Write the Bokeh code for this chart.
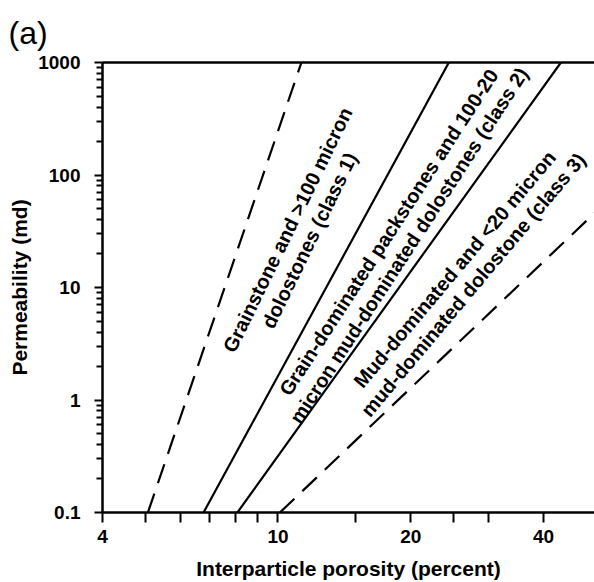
from bokeh.plotting import figure
from bokeh.models import FixedTicker, LogAxis, ColumnDataSource, Range1d, Title
from bokeh.embed import file_html
from bokeh.resources import INLINE
from bokeh.core.properties import value

# ---------------- data ----------------
# boundary lines: interparticle porosity (percent) vs permeability (md)
bound_class1_dash_por = [5.07, 11.3]
bound_class1_dash_perm = [0.1, 1000]
bound_class12_por = [6.78, 24.4]
bound_class12_perm = [0.1, 1000]
bound_class23_por = [8.09, 43.8]
bound_class23_perm = [0.1, 1000]
bound_class3_dash_por = [10.1, 52.2]
bound_class3_dash_perm = [0.1, 45.8]

x_major_ticks = [4, 10, 20, 40]
x_minor_ticks = [5, 6, 7, 8, 9, 15, 25, 30]
y_major_ticks = [0.1, 1, 10, 100, 1000]
y_tick_labels = ["0.1", "1", "10", "100", "1000"]
y_minor_ticks = [k * 10.0 ** d for d in range(-1, 3) for k in range(2, 10)]

class_labels = [
    "Grainstone and >100 micron\ndolostones (class 1)",
    "Grain-dominated packstones and 100-20\nmicron mud-dominated dolostones (class 2)",
    "Mud-dominated and <20 micron\nmud-dominated dolostone (class 3)",
]
class_label_x = [11.13, 18.8, 26.4]
class_label_y = [29.2, 27.1, 12.4]
class_label_angle = [64, 57, 50]

FONT = "Liberation Sans"

p = figure(width=594, height=582, x_axis_type="log", y_axis_type="log",
           x_range=Range1d(4, 52.2), y_range=Range1d(0.1, 1000),
           output_backend="svg", toolbar_location=None,
           min_border_left=102, min_border_right=0,
           min_border_top=62, min_border_bottom=69)
p.outline_line_color = None
p.grid.visible = False
p.background_fill_color = "white"
p.border_fill_color = "white"

# lines
p.line(bound_class1_dash_por, bound_class1_dash_perm, line_color="black",
       line_width=2.2, line_dash="20 11")
p.line(bound_class12_por, bound_class12_perm, line_color="black", line_width=2.2)
p.line(bound_class23_por, bound_class23_perm, line_color="black", line_width=2.2)
p.line(bound_class3_dash_por, bound_class3_dash_perm, line_color="black",
       line_width=2.2, line_dash="20 11")

src = ColumnDataSource(dict(x=class_label_x, y=class_label_y,
                            t=class_labels, a=class_label_angle))
p.text(x="x", y="y", text="t", angle="a", angle_units="deg", source=src,
       text_align="center", text_baseline="middle",
       text_font=value(FONT), text_font_style="bold",
       text_font_size="20px", text_color="black", text_line_height=1.1)

# x axis
xa = p.xaxis[0]
xa.ticker = FixedTicker(ticks=x_major_ticks, minor_ticks=x_minor_ticks)
xa.major_label_overrides = {t: str(t) for t in x_major_ticks}
xa.axis_label = "Interparticle porosity (percent)"
# y axis
ya = p.yaxis[0]
ya.ticker = FixedTicker(ticks=y_major_ticks, minor_ticks=y_minor_ticks)
ya.major_label_overrides = {t: s for t, s in zip(y_major_ticks, y_tick_labels)}
ya.axis_label = "Permeability (md)"

for ax in (xa, ya):
    ax.axis_line_width = 2.5
    ax.axis_line_color = "black"
    ax.major_tick_line_width = 2
    ax.minor_tick_line_width = 2
    ax.major_tick_line_color = "black"
    ax.minor_tick_line_color = "black"
    ax.major_tick_in = 0
    ax.minor_tick_in = 0
    ax.major_label_text_font = FONT
    ax.major_label_text_font_style = "bold"
    ax.major_label_text_font_size = "19px"
    ax.major_label_text_color = "black"
    ax.axis_label_text_font = FONT
    ax.axis_label_text_font_style = "bold"
    ax.axis_label_text_font_size = "21px"
    ax.axis_label_text_color = "black"

xa.major_tick_out = 10
xa.minor_tick_out = 10
xa.major_label_standoff = 7
xa.axis_label_standoff = 11
ya.major_tick_out = 8
ya.minor_tick_out = 6
ya.major_label_standoff = 14
ya.axis_label_standoff = 4

# top frame line
top = LogAxis(ticker=FixedTicker(ticks=[]), axis_line_width=2.5,
              axis_line_color="black", major_tick_line_color=None,
              minor_tick_line_color=None, major_label_text_font_size="0px",
              major_tick_out=0, minor_tick_out=0, major_label_standoff=0)
p.add_layout(top, "above")

p.add_layout(Title(text="(a)", align="left", offset=-94, standoff=24,
                   text_line_height=0.7,
                   text_font=FONT, text_font_style="normal",
                   text_font_size="32px", text_color="black"), "above")

open("out.html", "w").write(file_html(p, INLINE))
